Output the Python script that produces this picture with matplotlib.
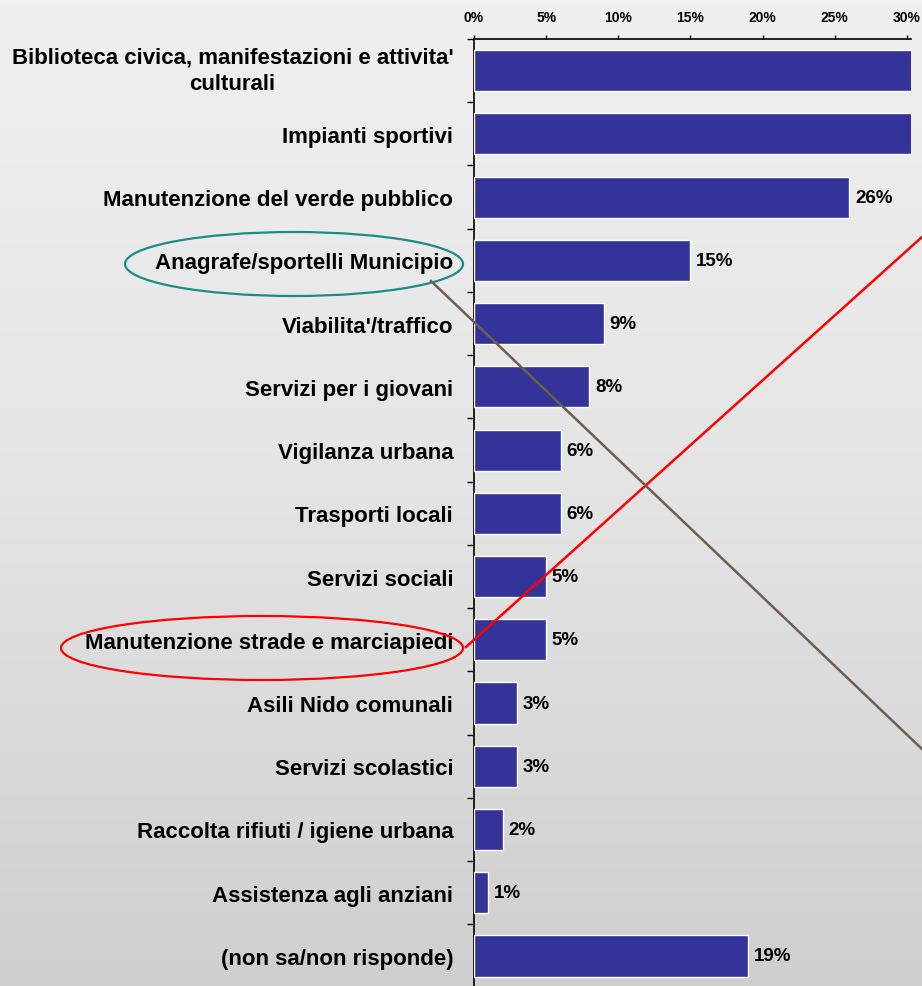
import numpy as np
import matplotlib
matplotlib.use("Agg")
import matplotlib.pyplot as plt
from matplotlib.patches import Ellipse
from matplotlib.lines import Line2D
from matplotlib.colors import LinearSegmentedColormap

plt.rcParams['font.family'] = ['Liberation Sans', 'DejaVu Sans']

categories = [
    "Biblioteca civica, manifestazioni e attivita'\nculturali",
    "Impianti sportivi",
    "Manutenzione del verde pubblico",
    "Anagrafe/sportelli Municipio",
    "Viabilita'/traffico",
    "Servizi per i giovani",
    "Vigilanza urbana",
    "Trasporti locali",
    "Servizi sociali",
    "Manutenzione strade e marciapiedi",
    "Asili Nido comunali",
    "Servizi scolastici",
    "Raccolta rifiuti / igiene urbana",
    "Assistenza agli anziani",
    "(non sa/non risponde)",
]
values = [34, 32, 26, 15, 9, 8, 6, 6, 5, 5, 3, 3, 2, 1, 19]
xticks = [0, 5, 10, 15, 20, 25, 30]
xtick_labels = ["0%", "5%", "10%", "15%", "20%", "25%", "30%"]

W, H = 922, 987
fig = plt.figure(figsize=(W / 100, H / 100), dpi=100)

# background gradient
bg = fig.add_axes([0, 0, 1, 1], zorder=-10)
grad = np.linspace(0, 1, 256).reshape(-1, 1)
cmap = LinearSegmentedColormap.from_list("bg", ["#f0f0f0", "#e4e4e4", "#cfcfcf"])
bg.imshow(grad, aspect='auto', cmap=cmap, extent=[0, 1, 0, 1], origin='upper')
bg.set_axis_off()


def px(x, y):
    return x / W, 1 - y / H


left, right = 474 / W, 911 / W
top = 1 - 40 / H
bottom = 1 - 988.6 / H
ax = fig.add_axes([left, bottom, right - left, top - bottom])
ax.patch.set_alpha(0)

xmax = 30.28
y = np.arange(len(categories))
ax.barh(y, values, height=0.65, color="#333399", edgecolor="white", linewidth=1.0, zorder=3)
ax.set_xlim(0, xmax)
ax.set_ylim(len(categories) - 0.5, -0.5)

for yi, v in zip(y, values):
    if v < xmax:
        ax.text(v + 0.4, yi, f"{v}%", va='center', ha='left', fontsize=13.5,
                fontweight='bold', color='black')

ax.xaxis.tick_top()
ax.set_xticks(xticks)
ax.set_xticklabels(xtick_labels, fontsize=10, fontweight='bold')
ax.tick_params(axis='x', length=3, width=1, pad=8, direction='out')

ax.set_yticks(y)
ax.set_yticklabels(categories, fontsize=16, fontweight='bold',
                   multialignment='center', linespacing=1.35)
ax.get_yticklabels()[0].set_va('center')
ax.tick_params(axis='y', which='major', length=0, pad=15)
ax.set_yticks(np.arange(-0.5, len(categories), 1.0), minor=True)
ax.tick_params(axis='y', which='minor', length=5, width=1, direction='out')

for s in ['right', 'bottom']:
    ax.spines[s].set_visible(False)
for s in ['left', 'top']:
    ax.spines[s].set_linewidth(1.2)
    ax.spines[s].set_color('black')

# annotations: ellipses and lines
cx, cy = px(294, 265)
fig.add_artist(Ellipse((cx, cy), 338 / W, 64 / H, transform=fig.transFigure,
                       fill=False, edgecolor="#1a8c86", linewidth=1.6, zorder=5))
cx, cy = px(262, 649)
fig.add_artist(Ellipse((cx, cy), 402 / W, 64 / H, transform=fig.transFigure,
                       fill=False, edgecolor="#ff0000", linewidth=1.6, zorder=5))

x0, y0 = px(466, 648)
x1, y1 = px(922, 238)
fig.add_artist(Line2D([x0, x1], [y0, y1], transform=fig.transFigure,
                      color="#ff0000", linewidth=1.8, zorder=6))
x0, y0 = px(431, 282)
x1, y1 = px(922, 750)
fig.add_artist(Line2D([x0, x1], [y0, y1], transform=fig.transFigure,
                      color="#6e5d52", linewidth=1.8, zorder=6))

fig.savefig("out.png", dpi=100)
